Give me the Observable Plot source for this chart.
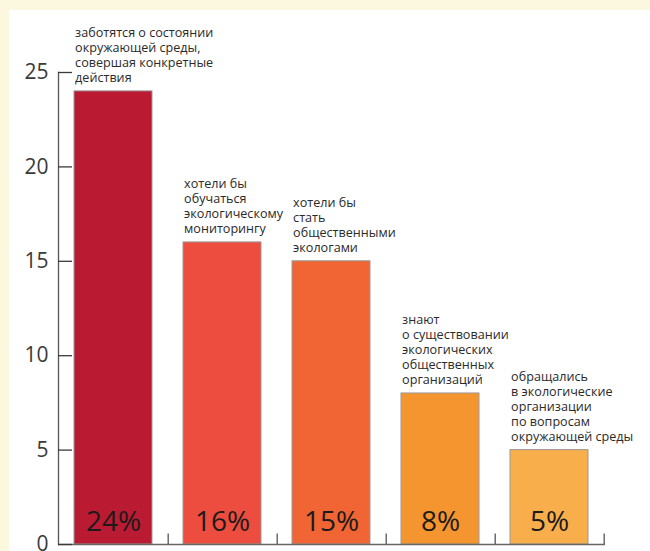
<!DOCTYPE html>
<html><head><meta charset="utf-8">
<script src="https://cdn.jsdelivr.net/npm/d3@7"></script>
<script src="https://cdn.jsdelivr.net/npm/@observablehq/plot@0.6"></script>
<style>
html,body{margin:0;padding:0;background:#fcf7df;width:650px;height:551px;overflow:hidden}
#panel{position:absolute;left:9px;top:10px;width:641px;height:541px;background:#fff}
</style></head><body><div id="panel"></div>
<script>
const categories = [
  "заботятся о состоянии\nокружающей среды,\nсовершая конкретные\nдействия",
  "хотели бы\nобучаться\nэкологическому\nмониторингу",
  "хотели бы\nстать\nобщественными\nэкологами",
  "знают\nо существовании\nэкологических\nобщественных\nорганизаций",
  "обращались\nв экологические\nорганизации\nпо вопросам\nокружающей среды"
];
const values = [24, 16, 15, 8, 5];
const percentLabels = ["24%", "16%", "15%", "8%", "5%"];
const colors = ["#ba1a32", "#ec4d3f", "#f06533", "#f59530", "#f8ae4b"];
const yTicks = [0, 5, 10, 15, 20, 25];

const W = 641, H = 541, mL = 49, mR = 45;
const step = (W - mL - mR) / categories.length;
const bw = step * 0.72;
const data = categories.map((c, i) => ({cat: c, value: values[i], pct: percentLabels[i], color: colors[i]}));

const chart = Plot.plot({
  width: W, height: H,
  marginLeft: mL, marginRight: mR, marginTop: 62, marginBottom: 7,
  style: {background: "white", fontFamily: "'Open Sans', sans-serif", overflow: "visible"},
  x: {domain: categories, paddingInner: 0.28, paddingOuter: 0.14, axis: null, label: null},
  y: {domain: [0, 25], label: null},
  color: {type: "identity"},
  marks: [
    Plot.barY(data, {x: "cat", y: "value", fill: "color", stroke: "#9a9a9a", strokeWidth: 1}),
    Plot.frame({anchor: "left", stroke: "#555", strokeWidth: 1.3}),
    Plot.ruleY([0], {stroke: "#666", strokeWidth: 1.3}),
    Plot.axisY(yTicks, {tickSize: -14, tickPadding: 24, fontSize: 21, color: "#3a3a3a", strokeWidth: 1.3, label: null}),
    Plot.ruleX(categories, {x: d => d, y1: 0, y2: 0.55, dx: step / 2, stroke: "#555", strokeWidth: 1.3}),
    Plot.text(data, {x: "cat", y: 0, text: "pct", dy: -14, fontSize: 28, fill: "#1c1a1a", lineAnchor: "bottom"}),
    Plot.text(data, {x: "cat", y: "value", text: "cat", textAnchor: "start", lineAnchor: "bottom",
      dx: -bw / 2 + 1, dy: -9, fontSize: 12.6, lineHeight: 1.2, fill: "#2a2a2a"})
  ]
});
document.getElementById("panel").appendChild(chart);
</script></body></html>
